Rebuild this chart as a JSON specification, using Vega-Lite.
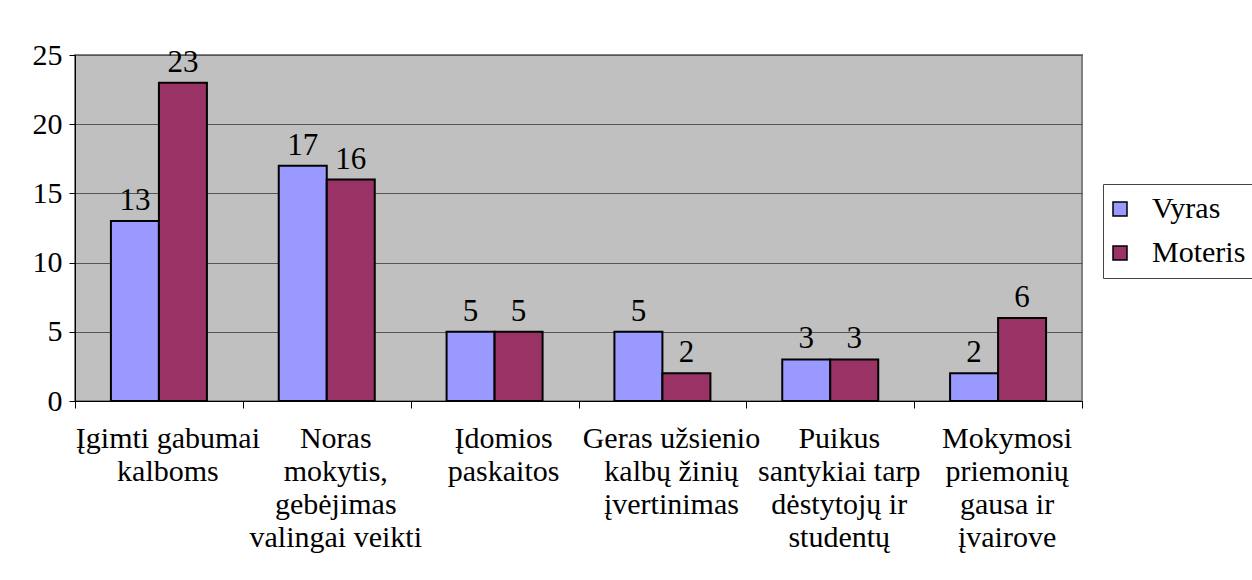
{
  "$schema": "https://vega.github.io/schema/vega-lite/v6.json",
  "width": 1007,
  "height": 346,
  "autosize": {"type": "none"},
  "padding": {"left": 75, "top": 55, "right": 170, "bottom": 179},
  "background": "white",
  "config": {
    "font": "'Liberation Serif', 'Times New Roman', serif",
    "axis": {"labelFont": "'Liberation Serif', 'Times New Roman', serif"},
    "legend": {"labelFont": "'Liberation Serif', 'Times New Roman', serif"},
    "text": {"font": "'Liberation Serif', 'Times New Roman', serif"},
    "view": {"fill": "#C0C0C0", "stroke": "#808080", "strokeWidth": 2}
  },
  "data": {
    "values": [
      {"cat": "Įgimti gabumai|kalboms", "sex": "Vyras", "value": 13},
      {"cat": "Įgimti gabumai|kalboms", "sex": "Moteris", "value": 23},
      {"cat": "Noras|mokytis,|gebėjimas|valingai veikti", "sex": "Vyras", "value": 17},
      {"cat": "Noras|mokytis,|gebėjimas|valingai veikti", "sex": "Moteris", "value": 16},
      {"cat": "Įdomios|paskaitos", "sex": "Vyras", "value": 5},
      {"cat": "Įdomios|paskaitos", "sex": "Moteris", "value": 5},
      {"cat": "Geras užsienio|kalbų žinių|įvertinimas", "sex": "Vyras", "value": 5},
      {"cat": "Geras užsienio|kalbų žinių|įvertinimas", "sex": "Moteris", "value": 2},
      {"cat": "Puikus|santykiai tarp|dėstytojų ir|studentų", "sex": "Vyras", "value": 3},
      {"cat": "Puikus|santykiai tarp|dėstytojų ir|studentų", "sex": "Moteris", "value": 3},
      {"cat": "Mokymosi|priemonių|gausa ir|įvairove", "sex": "Vyras", "value": 2},
      {"cat": "Mokymosi|priemonių|gausa ir|įvairove", "sex": "Moteris", "value": 6}
    ]
  },
  "resolve": {"scale": {"x": "independent"}, "axis": {"x": "independent"}},
  "layer": [
    {
      "encoding": {
        "x": {
          "field": "cat",
          "type": "nominal",
          "sort": null,
          "scale": {"paddingInner": 0.428, "paddingOuter": 0.214},
          "axis": {
            "orient": "bottom",
            "title": null,
            "labelAngle": 0,
            "labelExpr": "split(datum.value, '|')",
            "labelFontSize": 30,
            "labelColor": "black",
            "labelLineHeight": 33,
            "labelPadding": 22,
            "labelOverlap": false,
            "labelBound": false,
            "labelLimit": 0,
            "labelOffset": 9,
            "ticks": false,
            "domainColor": "black",
            "grid": false
          }
        },
        "xOffset": {
          "field": "sex",
          "type": "nominal",
          "sort": ["Vyras", "Moteris"],
          "scale": {"paddingInner": 0, "paddingOuter": 0}
        },
        "y": {
          "field": "value",
          "type": "quantitative",
          "scale": {"domain": [0, 25]},
          "axis": {
            "title": null,
            "values": [0, 5, 10, 15, 20, 25],
            "grid": true,
            "gridColor": "#555555",
            "gridWidth": 1,
            "tickSize": 6,
            "tickColor": "black",
            "domainColor": "black",
            "labelFontSize": 30,
            "labelColor": "black",
            "labelPadding": 7
          }
        }
      },
      "layer": [
        {
          "mark": {"type": "bar", "stroke": "black", "strokeWidth": 2},
          "encoding": {
            "color": {
              "field": "sex",
              "type": "nominal",
              "sort": ["Vyras", "Moteris"],
              "scale": {"domain": ["Vyras", "Moteris"], "range": ["#9999FF", "#993366"]},
              "legend": {
                "title": null,
                "orient": "none",
                "legendX": 1028,
                "legendY": 129,
                "strokeColor": "#444444",
                "fillColor": "white",
                "padding": 10,
                "symbolOffset": -8,
                "symbolType": "square",
                "symbolSize": 196,
                "symbolStrokeColor": "black",
                "symbolStrokeWidth": 1.5,
                "symbolOpacity": 1,
                "labelFontSize": 30,
                "labelColor": "black",
                "labelOffset": 17,
                "rowPadding": 14
              }
            }
          }
        },
        {
          "mark": {"type": "text", "baseline": "alphabetic", "dy": -11, "fontSize": 31, "color": "black"},
          "encoding": {"text": {"field": "value", "type": "quantitative"}}
        }
      ]
    },
    {
      "mark": {"type": "rule", "opacity": 0},
      "encoding": {
        "x": {
          "datum": 0,
          "type": "quantitative",
          "scale": {"domain": [0, 6], "nice": false, "zero": false},
          "axis": {
            "orient": "bottom",
            "title": null,
            "values": [0, 1, 2, 3, 4, 5, 6],
            "labels": false,
            "domain": false,
            "grid": false,
            "tickSize": 7,
            "tickColor": "black",
            "tickWidth": 1
          }
        }
      }
    }
  ]
}
